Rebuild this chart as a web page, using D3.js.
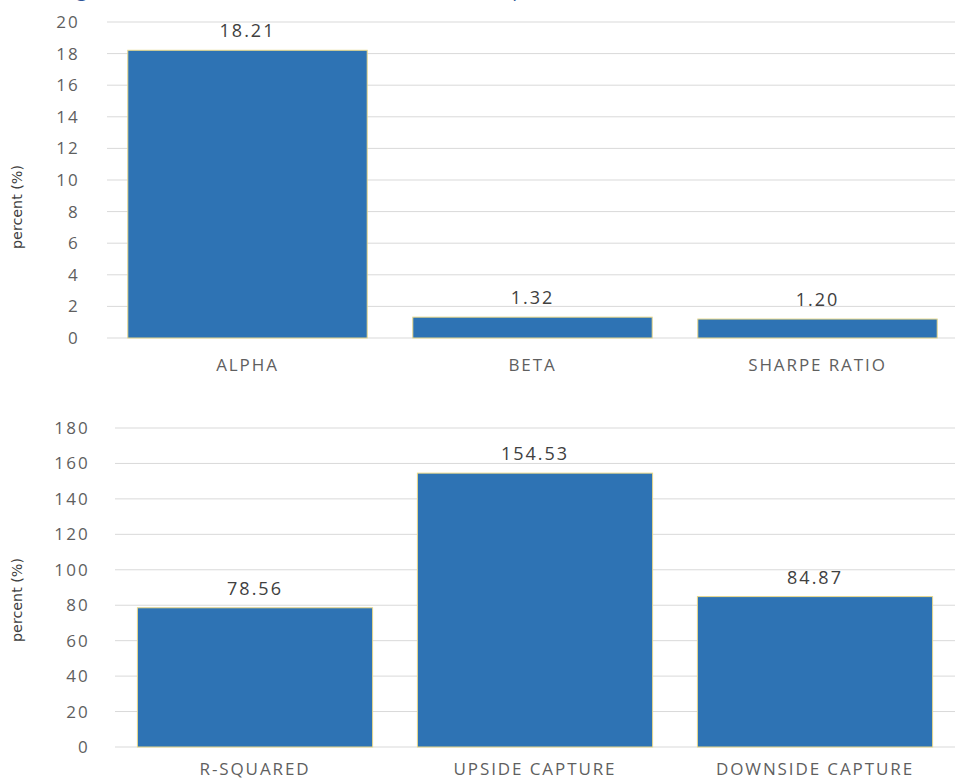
<!DOCTYPE html>
<html>
<head>
<meta charset="utf-8">
<script src="https://cdn.jsdelivr.net/npm/d3@7"></script>
<style>
  body { margin: 0; background: #fff; }
  svg { display: block; }
  .tick text { fill: #5f5f5f; font-family: "Open Sans", sans-serif; font-size: 17px; letter-spacing: 2.2px; }
  .cat { fill: #5f5f5f; font-family: "Open Sans", sans-serif; font-size: 17px; letter-spacing: 1.9px; }
  .val { fill: #404040; font-family: "Open Sans", sans-serif; font-size: 18px; letter-spacing: 2px; }
  .ytitle { fill: #404040; font-family: "Liberation Sans Narrow", "DejaVu Sans Condensed", sans-serif; font-size: 14px; }
</style>
</head>
<body>
<svg id="chart" width="955" height="781"></svg>
<script>
// top panel
const topCats = ["ALPHA", "BETA", "SHARPE RATIO"];
const topVals = [18.21, 1.32, 1.20];
const topTicks = [0, 2, 4, 6, 8, 10, 12, 14, 16, 18, 20];

// bottom panel
const botCats = ["R-SQUARED", "UPSIDE CAPTURE", "DOWNSIDE CAPTURE"];
const botVals = [78.56, 154.53, 84.87];
const botTicks = [0, 20, 40, 60, 80, 100, 120, 140, 160, 180];

const svg = d3.select("#chart");

// title, mostly cut off at the top like in the source image
svg.append("text")
  .attr("x", 62).attr("y", -3)
  .attr("fill", "#2F5597")
  .style("font-family", "Open Sans, sans-serif")
  .style("font-size", "19px")
  .text("Figure 3 (Fund Statistics, 3 Yr, 5 Yr, 10 Yr, Since Inception)");

function panel(cats, vals, ticks, opt) {
  const x = d3.scaleBand().domain(cats).range(opt.xr).paddingInner(0.16).paddingOuter(0.08);
  const y = d3.scaleLinear().domain([0, ticks[ticks.length - 1]]).range(opt.yr);

  // gridlines
  svg.append("g").selectAll("line").data(ticks).join("line")
    .attr("x1", opt.gx).attr("x2", 955)
    .attr("y1", d => y(d)).attr("y2", d => y(d))
    .attr("stroke", "#d9d9d9").attr("stroke-width", 1);

  const ax = svg.append("g")
    .attr("transform", `translate(${opt.lx},0)`)
    .call(d3.axisLeft(y).tickValues(ticks).tickSize(0).tickPadding(0));
  ax.select(".domain").remove();

  svg.append("g").selectAll("rect").data(vals).join("rect")
    .attr("x", (d, i) => x(cats[i]))
    .attr("width", x.bandwidth())
    .attr("y", d => y(d))
    .attr("height", d => y(0) - y(d))
    .attr("fill", "#2E73B4")
    .attr("stroke", "#E8D88A").attr("stroke-width", 1);

  svg.append("g").selectAll("text").data(vals).join("text")
    .attr("class", "val")
    .attr("x", (d, i) => x(cats[i]) + x.bandwidth() / 2)
    .attr("y", d => y(d) - 13)
    .attr("text-anchor", "middle")
    .text(d => d.toFixed(2));

  svg.append("g").selectAll("text").data(cats).join("text")
    .attr("class", "cat")
    .attr("x", d => x(d) + x.bandwidth() / 2)
    .attr("y", opt.cy)
    .attr("text-anchor", "middle")
    .text(d => d);

  svg.append("text")
    .attr("class", "ytitle")
    .attr("transform", `translate(${opt.tx},${opt.ty}) rotate(-90)`)
    .attr("text-anchor", "middle")
    .attr("textLength", 84).attr("lengthAdjust", "spacingAndGlyphs")
    .text("percent (%)");
}

panel(topCats, topVals, topTicks, {
  xr: [105, 960], yr: [338, 22], gx: 107, lx: 80, cy: 371, tx: 22, ty: 207
});
panel(botCats, botVals, botTicks, {
  xr: [115, 955], yr: [747, 428], gx: 115, lx: 90, cy: 775, tx: 22, ty: 600
});
</script>
</body>
</html>
